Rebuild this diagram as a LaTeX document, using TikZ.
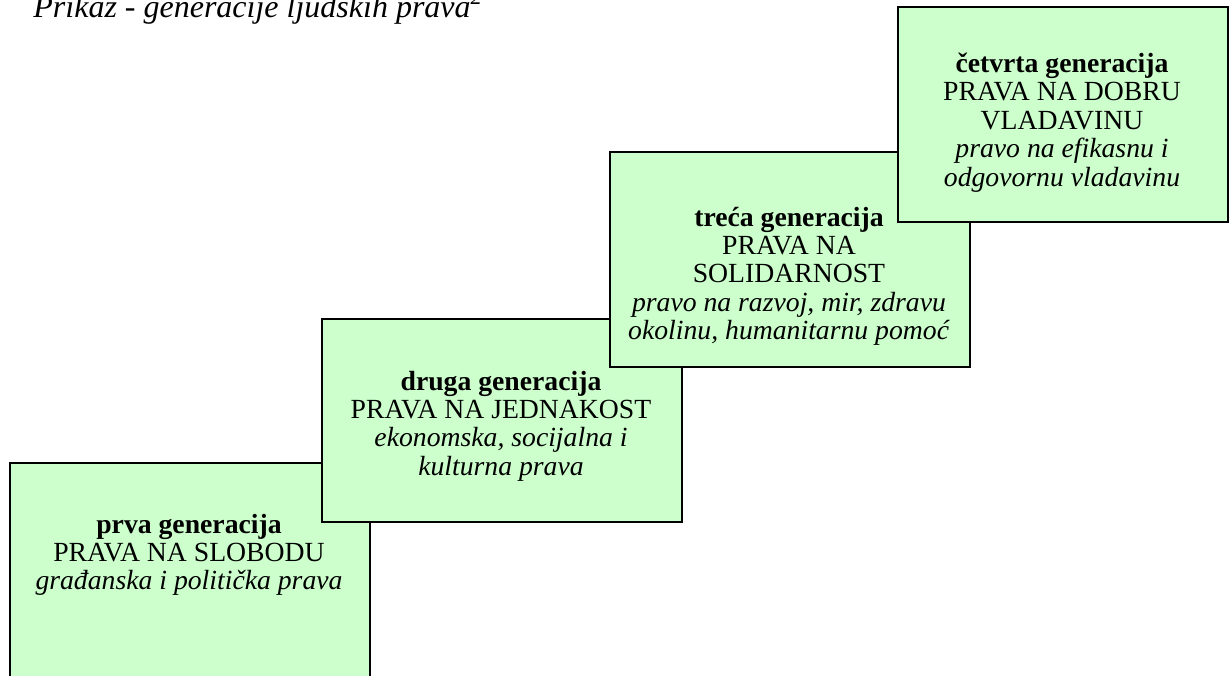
\documentclass[tikz,border=0pt]{standalone}
\usepackage{fontspec}
\setmainfont{Liberation Serif}
\definecolor{boxgreen}{HTML}{CCFFCC}
\tikzset{
  genbox/.style={draw=black, line width=1pt, fill=boxgreen, rectangle, inner sep=0pt},
  gentext/.style={anchor=base, inner sep=0pt, font=\fontsize{13.85}{14.2}\selectfont},
}
\newcommand{\genlines}[1]{\begin{tabular}[t]{@{}c@{}}#1\end{tabular}}
\begin{document}
\begin{tikzpicture}[x=0.5pt,y=-0.5pt]
\useasboundingbox (0,0) rectangle (1231,675);
\clip (0,0) rectangle (1231,675);
% title
\node[anchor=base west, inner sep=0pt, font=\fontsize{16}{18}\selectfont\itshape] (title) at (33,17.5) {Prikaz - generacije ljudskih prava\textsuperscript{2}};
% box 1 (runs past the bottom edge)
\node[genbox, minimum width=180pt, minimum height=130pt, anchor=north west] (b1) at (9,462) {};
\node[gentext] (t1) at (189,533) {\genlines{\textbf{prva generacija}\\PRAVA NA SLOBODU\\\textit{građanska i politička prava}}};
% box 2
\node[genbox, minimum width=180pt, minimum height=101.5pt, anchor=north west] (b2) at (321,318) {};
\node[gentext] (t2) at (501,390) {\genlines{\textbf{druga generacija}\\PRAVA NA JEDNAKOST\\\textit{ekonomska, socijalna i}\\\textit{kulturna prava}}};
% box 3
\node[genbox, minimum width=180pt, minimum height=107.5pt, anchor=north west] (b3) at (609,151) {};
\node[gentext] (t3) at (789,226) {\genlines{\textbf{treća generacija}\\PRAVA NA\\SOLIDARNOST\\\textit{pravo na razvoj, mir, zdravu}\\\textit{okolinu, humanitarnu pomoć}}};
% box 4
\node[genbox, minimum width=165pt, minimum height=107.5pt, anchor=north west] (b4) at (897,6) {};
\node[gentext] (t4) at (1062,72.5) {\genlines{\textbf{četvrta generacija}\\PRAVA NA DOBRU\\VLADAVINU\\\textit{pravo na efikasnu i}\\\textit{odgovornu vladavinu}}};
\end{tikzpicture}
\end{document}
